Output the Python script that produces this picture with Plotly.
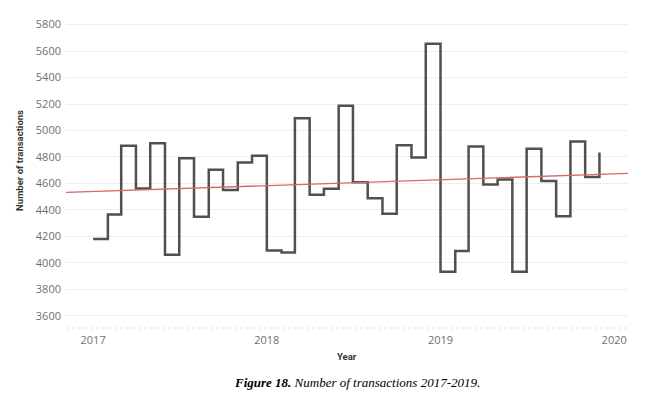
import plotly.graph_objects as go

# ---- data ----
months_2017 = ["2017-01-01", "2017-02-01", "2017-03-01", "2017-04-01", "2017-05-01", "2017-06-01",
               "2017-07-01", "2017-08-01", "2017-09-01", "2017-10-01", "2017-11-01", "2017-12-01"]
months_2018 = ["2018-01-01", "2018-02-01", "2018-03-01", "2018-04-01", "2018-05-01", "2018-06-01",
               "2018-07-01", "2018-08-01", "2018-09-01", "2018-10-01", "2018-11-01", "2018-12-01"]
months_2019 = ["2019-01-01", "2019-02-01", "2019-03-01", "2019-04-01", "2019-05-01", "2019-06-01",
               "2019-07-01", "2019-08-01", "2019-09-01", "2019-10-01", "2019-11-01", "2019-12-01"]

tx_2017 = [4180, 4365, 4885, 4562, 4904, 4061, 4790, 4347, 4704, 4550, 4757, 4808]
tx_2018 = [4092, 4077, 5093, 4515, 4560, 5187, 4608, 4487, 4370, 4888, 4795, 5655]
tx_2019 = [3932, 4089, 4878, 4592, 4630, 3932, 4861, 4618, 4352, 4916, 4648, 4833]

trend_dates = ["2016-11-05", "2020-01-30"]
trend_values = [4532, 4675]

y_ticks = [3600, 3800, 4000, 4200, 4400, 4600, 4800, 5000, 5200, 5400, 5600, 5800]
x_ticks = ["2017-01-01", "2018-01-01", "2019-01-01", "2020-01-01"]
x_tick_labels = ["2017", "2018", "2019", "2020"]

months = months_2017 + months_2018 + months_2019
values = tx_2017 + tx_2018 + tx_2019

tick_font = dict(family="Open Sans", size=11, color="#707070")

fig = go.Figure()
fig.add_trace(go.Scatter(
    x=months, y=values, mode="lines", line=dict(shape="hv", color="#505050", width=2.5),
    showlegend=False, hoverinfo="x+y"))
fig.add_trace(go.Scatter(
    x=trend_dates, y=trend_values, mode="lines", line=dict(color="#d46a6a", width=1.3),
    showlegend=False))

fig.update_layout(
    width=660, height=394,
    margin=dict(l=66, r=32, t=18, b=66),
    paper_bgcolor="white", plot_bgcolor="white",
    xaxis=dict(range=["2016-11-05", "2020-01-30"], tickvals=x_ticks, ticktext=x_tick_labels,
               showgrid=False, zeroline=False, showline=False, ticks="",
               tickfont=tick_font, ticklabelstandoff=4),
    yaxis=dict(range=[3507, 5850], tickvals=y_ticks, showgrid=True, gridcolor="#efefef",
               gridwidth=1, zeroline=False, showline=False, ticks="",
               tickfont=tick_font, ticklabelstandoff=4),
    shapes=[dict(type="line", xref="paper", yref="paper", x0=0, x1=1, y0=0, y1=0,
                 line=dict(color="#e0e0e0", width=1, dash="dot"), layer="below")],
    annotations=[
        dict(text="<b>Number of transactions</b>", xref="paper", yref="paper",
             x=-0.082, y=0.542, textangle=-90, showarrow=False,
             font=dict(family="Roboto", size=9.5, color="#333333"),
             xanchor="center", yanchor="middle"),
        dict(text="<b>Year</b>", xref="paper", yref="paper", x=0.5, y=-0.093,
             showarrow=False, font=dict(family="Roboto", size=9.5, color="#333333"),
             xanchor="center", yanchor="middle"),
        dict(text="<b><i>Figure 18.</i></b><i> Number of transactions 2017-2019.</i>",
             xref="paper", yref="paper", x=0.518, y=-0.175, showarrow=False,
             font=dict(family="Liberation Serif", size=13, color="#000000"),
             xanchor="center", yanchor="middle"),
    ],
)

fig.write_html("out.html", config={"displayModeBar": False},
               post_script="document.body.style.margin='0';document.body.style.overflow='hidden';")
